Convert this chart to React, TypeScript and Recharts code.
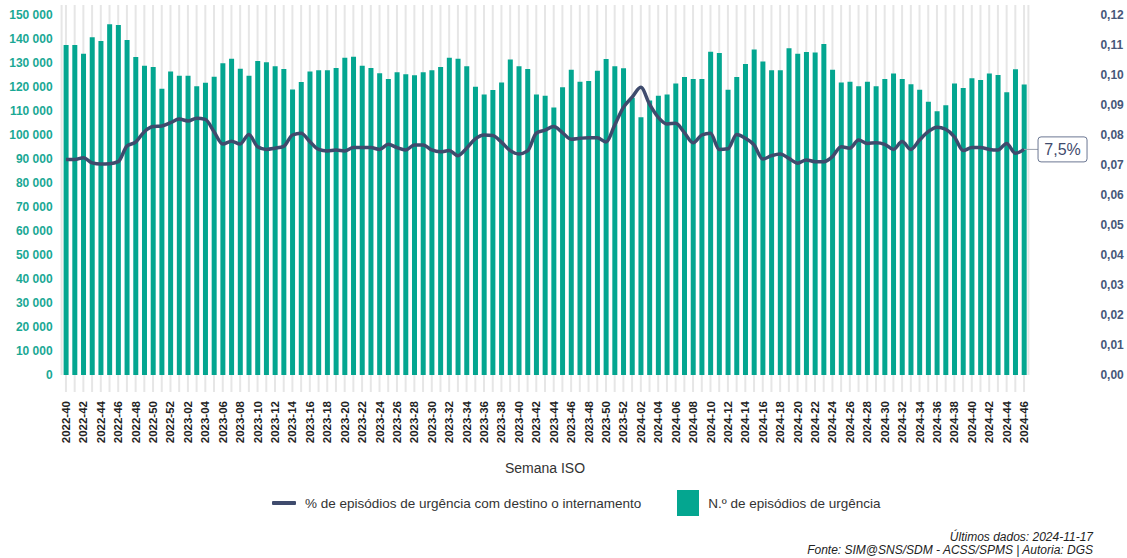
import React from "react";
import { ComposedChart, Bar, Line, XAxis, YAxis, CartesianGrid } from "recharts";

// ISO weeks shown on the x axis: 2022-40 .. 2024-46
const weeks2022 = [40, 41, 42, 43, 44, 45, 46, 47, 48, 49, 50, 51, 52];
const weeks2023 = Array.from({ length: 52 }, (_, i) => i + 1);
const weeks2024 = Array.from({ length: 46 }, (_, i) => i + 1);

const pad = (n: number) => (n < 10 ? "0" + n : "" + n);
const semanas: string[] = [
  ...weeks2022.map((w) => "2022-" + pad(w)),
  ...weeks2023.map((w) => "2023-" + pad(w)),
  ...weeks2024.map((w) => "2024-" + pad(w)),
];

// N.º de episódios de urgência
const episodios = [
  137500, 137500, 133900, 140700, 139200, 146100, 145800, 139600, 132500, 128900, 128300, 119300, 126500,
  124700, 124700, 120300, 121800, 124300, 129900, 131800, 127600, 124700, 130800, 130300, 128600, 127500,
  119000, 122100, 126500, 127000, 127000, 127900, 132200, 132600, 128900, 127900, 125700, 123300, 126100,
  125300, 124900, 126100, 127000, 128300, 132200, 131800, 128600, 120100, 116900, 118750, 121900, 131500,
  128600, 127500, 116900, 116400, 111500, 119900, 127200, 122200, 122500, 126800, 131700, 128600, 127800,
  115500, 107400, 114400, 116400, 116900, 121500, 124200, 123300, 123300, 134700, 134200, 118900, 124200,
  129600, 135600, 130600, 127000, 127000, 136100, 133900, 134600, 134400, 137900, 127200, 121900, 122200,
  120300, 122200, 120300, 123300, 125600, 123300, 121100, 118900, 113900, 109900, 112400, 121500, 119600,
  123600, 122900, 125600, 125000, 117800, 127400, 121000,
];

// % de episódios de urgência com destino o internamento
const internamento = [
  0.0718, 0.0718, 0.0724, 0.0707, 0.0703, 0.0704, 0.0711, 0.0763, 0.0776, 0.0811, 0.0828, 0.083, 0.0841,
  0.0853, 0.0847, 0.0856, 0.0852, 0.0811, 0.077, 0.0779, 0.077, 0.0802, 0.0761, 0.0752, 0.0756, 0.0762,
  0.08, 0.0806, 0.0778, 0.0752, 0.0747, 0.075, 0.0747, 0.0758, 0.0758, 0.0758, 0.0752, 0.0769, 0.0758,
  0.075, 0.0767, 0.0767, 0.075, 0.0744, 0.0748, 0.0731, 0.0756, 0.0787, 0.08, 0.0798, 0.0776, 0.0748,
  0.0737, 0.0747, 0.0806, 0.0816, 0.0828, 0.0808, 0.0786, 0.0789, 0.0791, 0.0791, 0.0777, 0.0833, 0.0892,
  0.0926, 0.0959, 0.0903, 0.0859, 0.0837, 0.0839, 0.0808, 0.0774, 0.08, 0.0806, 0.0752, 0.0754, 0.0802,
  0.0789, 0.0767, 0.072, 0.0731, 0.0737, 0.0722, 0.0706, 0.0717, 0.0711, 0.0711, 0.0728, 0.0761, 0.0756,
  0.0783, 0.0772, 0.0774, 0.0769, 0.0752, 0.0778, 0.0752, 0.0783, 0.0811, 0.0826, 0.0819, 0.0794, 0.0748,
  0.0758, 0.0758, 0.0752, 0.075, 0.0772, 0.0739, 0.0752,
];

const leftTicks = [0, 10000, 20000, 30000, 40000, 50000, 60000, 70000, 80000, 90000, 100000, 110000, 120000, 130000, 140000, 150000];
const rightTicks = [0, 0.01, 0.02, 0.03, 0.04, 0.05, 0.06, 0.07, 0.08, 0.09, 0.1, 0.11, 0.12];

const data = semanas.map((semana, i) => ({
  semana,
  episodios: episodios[i],
  internamento: internamento[i],
}));

const TEAL = "#04a690";
const SLATE = "#3f4b6d";
const FONT = '"Liberation Sans", Arial, sans-serif';

const fmtThousands = (v: number) => String(v).replace(/\B(?=(\d{3})+(?!\d))/g, " ");

const LeftTick = (props: any) => (
  <text x={props.x} y={props.y} dy="0.35em" textAnchor="end" fill="#1aa895" fontSize={12} fontWeight="bold" fontFamily={FONT}>
    {fmtThousands(props.payload.value)}
  </text>
);

const RightTick = (props: any) => (
  <text x={props.x} y={props.y} dy="0.35em" textAnchor="start" fill="#46587a" fontSize={12} fontWeight="bold" fontFamily={FONT}>
    {props.payload.value.toFixed(2).replace(".", ",")}
  </text>
);

const WeekTick = (props: any) => {
  if (props.index % 2 !== 0) return null;
  const { x, y } = props;
  return (
    <text
      x={x}
      y={y}
      dy="0.35em"
      textAnchor="end"
      transform={`rotate(-90, ${x}, ${y})`}
      fill="#222"
      fontSize={11.5}
      fontWeight="bold"
      fontFamily={FONT}
    >
      {props.payload.value}
    </text>
  );
};

const LastLabel = (props: any) => {
  if (props.index !== data.length - 1) return null;
  const { x, y, value } = props;
  const bx = x + 14;
  return (
    <g>
      <line x1={x} y1={y} x2={bx} y2={y} stroke="#9aa0ad" strokeWidth={1} />
      <rect x={bx} y={y - 12.5} width={49} height={25} rx={3} fill="#fff" stroke="#6b7793" strokeWidth={1} />
      <text x={bx + 24.5} y={y} dy="0.36em" textAnchor="middle" fill={SLATE} fontSize={16} fontFamily={FONT}>
        {(value * 100).toFixed(1).replace(".", ",") + "%"}
      </text>
    </g>
  );
};

export default function App() {
  return (
    <div style={{ position: "absolute", left: 0, top: 0, width: 1127, height: 558, background: "#fff", fontFamily: FONT }}>
      <ComposedChart width={1127} height={480} data={data} margin={{ top: 5, right: 0, left: 0, bottom: 0 }}>
        <CartesianGrid vertical horizontal={false} stroke="#e6e6e6" strokeWidth={2} yAxisId="left" />
        <XAxis
          dataKey="semana"
          interval={0}
          height={105}
          axisLine={false}
          tickSize={17}
          tickMargin={9}
          tickLine={{ stroke: "#e6e6e6", strokeWidth: 2 }}
          tick={<WeekTick />}
          label={{ value: "Semana ISO", position: "insideBottom", offset: 7, fill: "#333", fontSize: 14, fontFamily: FONT }}
        />
        <YAxis
          yAxisId="left"
          orientation="left"
          width={61.6}
          domain={[0, 154166]}
          ticks={leftTicks}
          axisLine={false}
          tickLine={false}
          tickSize={0}
          tickMargin={9}
          tick={<LeftTick />}
        />
        <YAxis
          yAxisId="right"
          orientation="right"
          width={98.6}
          domain={[0, 0.12333]}
          ticks={rightTicks}
          axisLine={false}
          tickLine={false}
          tickSize={0}
          tickMargin={72}
          tick={<RightTick />}
        />
        <Bar yAxisId="left" dataKey="episodios" fill={TEAL} barSize={5} isAnimationActive={false} />
        <Line
          yAxisId="right"
          dataKey="internamento"
          type="monotone"
          stroke={SLATE}
          strokeWidth={3.5}
          dot={false}
          label={<LastLabel />}
          isAnimationActive={false}
        />
      </ComposedChart>

      <div style={{ position: "absolute", top: 490, left: 0, width: 1127, height: 26, display: "flex", alignItems: "center", fontSize: 13.5, color: "#333" }}>
        <span style={{ marginLeft: 272, width: 24, height: 4, background: SLATE, borderRadius: 1 }} />
        <span style={{ marginLeft: 9 }}>% de episódios de urgência com destino o internamento</span>
        <span style={{ marginLeft: 36, width: 22, height: 26, background: TEAL }} />
        <span style={{ marginLeft: 9 }}>N.º de episódios de urgência</span>
      </div>

      <div style={{ position: "absolute", top: 531, right: 34, textAlign: "right", fontSize: 12, fontStyle: "italic", color: "#222", lineHeight: "13px" }}>
        <div>Últimos dados: 2024-11-17</div>
        <div>Fonte: SIM@SNS/SDM - ACSS/SPMS | Autoria: DGS</div>
      </div>
    </div>
  );
}
